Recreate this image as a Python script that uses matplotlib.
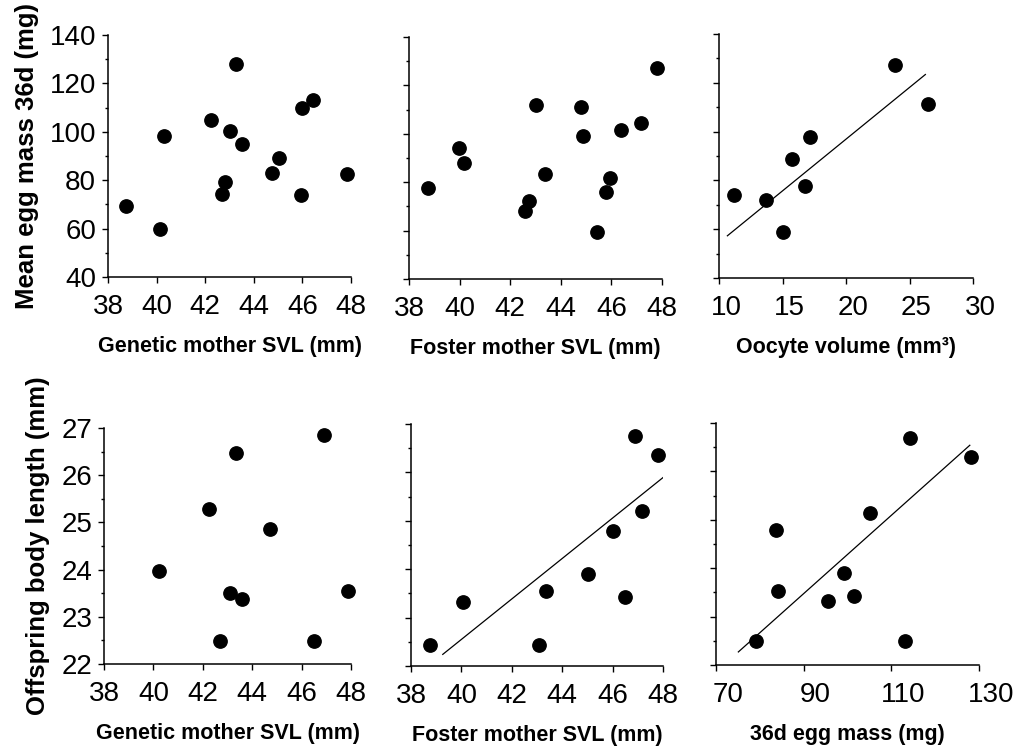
import matplotlib
matplotlib.use('Agg')
import numpy as np
import matplotlib.pyplot as plt
import matplotlib.transforms as mtransforms
from matplotlib.ticker import MultipleLocator

plt.rcParams['font.family'] = ['Liberation Sans', 'DejaVu Sans']

# --- top row: mean egg mass at 36 d (mg) ---
gen_svl_top = [38.73, 40.12, 40.32, 42.23, 43.27, 43.03, 43.51, 42.81, 42.70,
               44.74, 45.02, 45.98, 46.45, 45.93, 47.82]
egg_mass_gen = [69.3, 59.7, 98.4, 104.7, 128.0, 100.2, 95.0, 79.1, 74.4,
                83.1, 89.3, 109.8, 113.1, 73.9, 82.6]

fos_svl_top = [38.75, 39.96, 40.19, 43.01, 43.36, 42.73, 42.57, 44.80, 44.86,
               45.42, 45.79, 45.95, 46.39, 47.17, 47.82]
egg_mass_fos = [77.5, 94.2, 88.0, 112.0, 83.4, 72.2, 68.2, 110.9, 99.2,
                59.6, 76.0, 81.6, 101.4, 104.3, 127.3]

oocyte_vol = [11.15, 13.67, 15.04, 15.75, 16.80, 17.14, 23.88, 26.46]
egg_mass_ooc = [74.2, 71.9, 59.0, 88.9, 77.7, 97.9, 127.4, 111.5]
fit_ooc_x = [10.66, 26.25]
fit_ooc_y = [57.3, 123.4]

# --- bottom row: offspring body length (mm) ---
gen_svl_bot = [40.23, 42.27, 43.35, 43.11, 43.57, 42.70, 44.73, 46.92, 46.51, 47.86]
body_len_gen = [23.97, 25.28, 26.47, 23.50, 23.37, 22.48, 24.86, 26.86, 22.48, 23.55]

fos_svl_bot = [38.75, 40.08, 43.09, 43.36, 45.01, 46.48, 46.03, 47.18, 46.90, 47.81]
body_len_fos = [22.44, 23.33, 22.44, 23.54, 23.91, 23.43, 24.79, 25.21, 26.76, 26.36]
fit_fos_x = [39.26, 48.16]
fit_fos_y = [22.24, 25.96]

egg_mass_bot = [79.2, 83.6, 84.2, 95.5, 99.2, 101.4, 105.2, 113.2, 114.3, 128.2]
body_len_egg = [22.49, 24.79, 23.53, 23.33, 23.90, 23.42, 25.15, 22.49, 26.68, 26.30]
fit_egg_x = [75.1, 127.9]
fit_egg_y = [22.27, 26.54]

W, H = 1017, 748
fig = plt.figure(figsize=(W / 100, H / 100), dpi=100)


def panel(box, xs, ys, xlim, xstep, ylim, ymaj, ymin, xlabel,
          ylabel=None, fit=None, label_shift=0):
    l, t, r, b = box
    ax = fig.add_axes([l / W, 1 - b / H, (r - l) / W, (b - t) / H])
    ax.plot(xs, ys, 'o', color='black', markersize=9.6, clip_on=False)
    if fit is not None:
        ax.plot(fit[0], fit[1], color='black', linewidth=0.9)
    ax.set_xlim(*xlim)
    ax.set_ylim(*ylim)
    ax.set_xticks(np.arange(xlim[0], xlim[1] + xstep / 2, xstep))
    ax.yaxis.set_major_locator(MultipleLocator(ymaj))
    ax.yaxis.set_minor_locator(MultipleLocator(ymin))
    for s in ['top', 'right']:
        ax.spines[s].set_visible(False)
    for s in ['left', 'bottom']:
        ax.spines[s].set_linewidth(1.1)
    ax.tick_params(which='major', direction='out', length=4.5, width=1.0,
                   labelsize=20, colors='black')
    ax.tick_params(which='minor', direction='out', length=2.5, width=1.0)
    ax.tick_params(axis='x', pad=8)
    ax.tick_params(axis='y', pad=4)
    ax.set_xlabel(xlabel, fontsize=15.5, fontweight='bold', labelpad=11)
    if ylabel:
        ax.set_ylabel(ylabel, fontsize=18.5, fontweight='bold', labelpad=8)
    else:
        ax.set_yticklabels([])
    if label_shift:
        off = mtransforms.ScaledTranslation(label_shift / 100, 0, fig.dpi_scale_trans)
        for lab in ax.get_xticklabels():
            lab.set_transform(lab.get_transform() + off)
    return ax


panel((108, 35, 351, 277), gen_svl_top, egg_mass_gen, (38, 48), 2,
      (40, 140), 20, 10, 'Genetic mother SVL (mm)',
      ylabel='Mean egg mass 36d (mg)')
panel((409, 37, 662, 279), fos_svl_top, egg_mass_fos, (38, 48), 2,
      (40, 140), 20, 10, 'Foster mother SVL (mm)')
panel((719, 34, 973, 278), oocyte_vol, egg_mass_ooc, (10, 30), 5,
      (40, 140), 20, 10, 'Oocyte volume (mm³)',
      fit=(fit_ooc_x, fit_ooc_y), label_shift=7)

panel((104, 428, 351, 664), gen_svl_bot, body_len_gen, (38, 48), 2,
      (22, 27), 1, 0.5, 'Genetic mother SVL (mm)',
      ylabel='Offspring body length (mm)')
panel((411, 424, 663, 666), fos_svl_bot, body_len_fos, (38, 48), 2,
      (22, 27), 1, 0.5, 'Foster mother SVL (mm)',
      fit=(fit_fos_x, fit_fos_y))
panel((716, 423, 979, 665), egg_mass_bot, body_len_egg, (70, 130), 20,
      (22, 27), 1, 0.5, '36d egg mass (mg)',
      fit=(fit_egg_x, fit_egg_y), label_shift=12)

fig.savefig('out.png', dpi=100)
